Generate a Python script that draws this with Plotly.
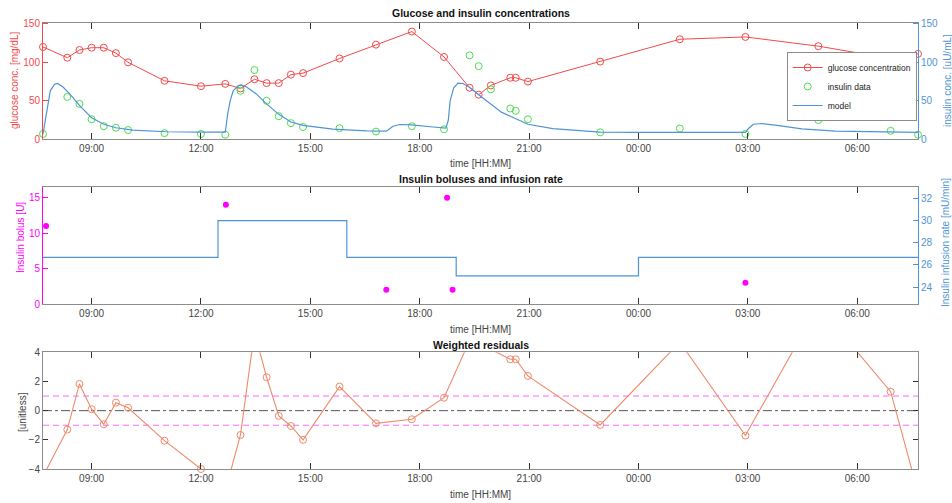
import plotly.graph_objects as go
from datetime import datetime, timedelta

# ---------------- data ----------------
sample_times = ["07:40", "08:20", "08:40", "09:00", "09:20", "09:40", "10:00", "11:00",
                "12:00", "12:40", "13:05", "13:28", "13:48", "14:08", "14:28", "14:48",
                "15:48", "16:48", "17:47", "18:40", "19:22", "19:37", "19:57", "20:29",
                "20:38", "20:58", "22:57", "01:08", "02:56", "04:56", "06:55", "07:40"]
glucose = [120, 106, 116, 119, 119, 112, 100, 76, 69, 72, 66, 78, 73, 73, 84, 86,
           105, 123, 140, 107, 67, 58, 70, 80, 80, 75, 101, 130, 133, 121, 105, 111]
insulin_data = [7, 55, 46, 26, 17, 15, 12, 8, 7, 6, 63, 90, 50, 30, 21, 16,
                14.5, 10, 17, 13, 109, 95, 65, 40, 37, 26, 9, 14, 7, 25, 11, 6]
residuals = [-4.5, -1.3, 1.83, 0.1, -0.93, 0.55, 0.2, -2.06, -4.0, -5.5, -1.67, 5.4,
             2.29, -0.36, -1.05, -2.0, 1.65, -0.87, -0.59, 0.89, 4.8, 5.5, 4.2, 3.52,
             3.52, 2.38, -0.98, 4.7, -1.71, 7.2, 1.3, -5.6]

model_times = ["07:40", "07:43", "07:46", "07:52", "07:59", "08:04", "08:13", "08:24",
               "08:41", "09:00", "09:20", "09:40", "10:08", "11:03", "12:00", "12:40",
               "12:44", "12:48", "12:53", "13:01", "13:06", "13:15", "13:31", "13:48",
               "14:08", "14:28", "14:48", "15:37", "16:32", "17:05", "17:10", "17:16",
               "17:27", "17:47", "18:22", "18:43", "18:47", "18:50", "18:56", "19:03",
               "19:11", "19:22", "19:37", "19:57", "20:15", "20:58", "21:39", "22:57",
               "23:55", "02:56", "03:01", "03:09", "03:23", "03:45", "04:29", "05:24",
               "06:55", "07:40"]
model = [7, 20, 37.5, 63, 71.6, 72.5, 68, 59, 43, 28, 19.6, 15, 12, 9.8, 9.3, 9.2,
         33, 50, 63, 69.5, 70.7, 68, 59, 46, 32.4, 22.5, 18, 13.2, 11, 10.6, 13.5, 17,
         19.2, 18.8, 16, 14.5, 24.7, 50, 67, 73, 72.5, 67.6, 58, 46, 35, 19.6, 14, 9.3,
         8.9, 8.9, 14, 19.6, 20.5, 18.3, 13.6, 10.6, 9.2, 9]

bolus_times = ["07:45", "12:41", "17:05", "18:45", "18:54", "02:56"]
bolus = [11, 14, 2, 15, 2, 3]

infusion_times = ["07:40", "12:28", "16:00", "19:00", "00:00", "07:40"]
infusion = [26.67, 30, 26.67, 25, 26.67, 26.67]

tick_labels = ["09:00", "12:00", "15:00", "18:00", "21:00", "00:00", "03:00", "06:00"]
residual_band = 1
residual_ref = 0


def to_dt(hms):
    base = datetime(2024, 1, 1)
    out, day, prev = [], 0, None
    for s in hms:
        h, m = map(int, s.split(":"))
        v = h * 60 + m
        if prev is not None and v < prev:
            day += 1
        prev = v
        out.append(base + timedelta(days=day, hours=h, minutes=m))
    return out


ts = to_dt(sample_times)
tm = to_dt(model_times)
tb = to_dt(bolus_times)
ti = to_dt(infusion_times)
ticks = to_dt(tick_labels)
x_range = [ts[0], ts[-1]]

RED = "#f24a4a"
GREEN = "#4ddd4d"
BLUE = "#4f94d4"
MAG = "#ff00ff"
RES = "#ee8a6a"
GRAYL = "#8c8c8c"
TICKC = "#444444"
FONT = "Liberation Sans, Arial, sans-serif"

W, H = 952, 503
L, R = 43, 918
panels = [(22.7, 139.3), (187.3, 304.0), (352.3, 469.0)]


def ydom(p):
    t, b = p
    return [1 - b / H, 1 - t / H]


xdom = [L / W, R / W]

fig = go.Figure()

# Panel 1
fig.add_trace(go.Scatter(x=ts, y=glucose, mode="lines+markers", name="glucose concentration",
                         line=dict(color=RED, width=1),
                         marker=dict(symbol="circle-open", size=7, color=RED, line=dict(width=1)),
                         xaxis="x", yaxis="y", cliponaxis=False))
fig.add_trace(go.Scatter(x=ts, y=insulin_data, mode="markers", name="insulin data",
                         marker=dict(symbol="circle-open", size=7, color=GREEN, line=dict(width=1)),
                         xaxis="x", yaxis="y2", cliponaxis=False))
fig.add_trace(go.Scatter(x=tm, y=model, mode="lines", name="model",
                         line=dict(color=BLUE, width=1.2), xaxis="x", yaxis="y2"))

# Panel 2
fig.add_trace(go.Scatter(x=ti, y=infusion, mode="lines", line_shape="hv",
                         line=dict(color=BLUE, width=1.2), xaxis="x2", yaxis="y4",
                         showlegend=False))
fig.add_trace(go.Scatter(x=tb, y=bolus, mode="markers",
                         marker=dict(symbol="circle", size=6, color=MAG),
                         xaxis="x2", yaxis="y3", showlegend=False, cliponaxis=False))

# Panel 3
fig.add_trace(go.Scatter(x=x_range, y=[residual_band] * 2, mode="lines",
                         line=dict(color="#ff66ff", width=1, dash="6px,4px"),
                         xaxis="x3", yaxis="y5", showlegend=False))
fig.add_trace(go.Scatter(x=x_range, y=[-residual_band] * 2, mode="lines",
                         line=dict(color="#ff66ff", width=1, dash="6px,4px"),
                         xaxis="x3", yaxis="y5", showlegend=False))
fig.add_trace(go.Scatter(x=x_range, y=[residual_ref] * 2, mode="lines",
                         line=dict(color="#555555", width=1, dash="dashdot"),
                         xaxis="x3", yaxis="y5", showlegend=False))
fig.add_trace(go.Scatter(x=ts, y=residuals, mode="lines",
                         line=dict(color=RES, width=1.1),
                         xaxis="x3", yaxis="y5", showlegend=False))
in_rng = [(t, r) for t, r in zip(ts, residuals) if -4 <= r <= 4]
fig.add_trace(go.Scatter(x=[a for a, _ in in_rng], y=[b for _, b in in_rng], mode="markers",
                         marker=dict(symbol="circle-open", size=7, color=RES, line=dict(width=1)),
                         xaxis="x3", yaxis="y5", showlegend=False, cliponaxis=False))

xcommon = dict(domain=xdom, range=x_range, tickvals=ticks, tickformat="%H:%M",
               ticks="inside", ticklen=6, tickcolor="#333", showline=True, linecolor=GRAYL,
               linewidth=1, mirror="ticks", showgrid=False, zeroline=False, automargin=False,
               tickfont=dict(size=10, color=TICKC, family=FONT))


def ycommon(color, rng, tv, dom=None, side="left"):
    d = dict(range=rng, tickvals=tv, ticks="inside", ticklen=5, tickcolor=color,
             showline=True, linecolor=color, linewidth=1, showgrid=False, zeroline=False,
             automargin=False, tickfont=dict(size=10, color=color, family=FONT), side=side)
    if dom is not None:
        d["domain"] = dom
    return d


fig.update_layout(
    width=W, height=H, margin=dict(l=0, r=0, t=0, b=0, pad=0, autoexpand=False),
    paper_bgcolor="white", plot_bgcolor="white",
    font=dict(family=FONT, size=10, color="#222"),
    xaxis=dict(anchor="y", **xcommon),
    xaxis2=dict(anchor="y3", **xcommon),
    xaxis3=dict(anchor="y5", **xcommon),
    yaxis=dict(anchor="x", **ycommon(RED, [0, 151.5], [0, 50, 100, 150], ydom(panels[0]))),
    yaxis2=dict(anchor="x", overlaying="y", **ycommon(BLUE, [0, 151.5], [0, 50, 100, 150], side="right")),
    yaxis3=dict(anchor="x2", **ycommon(MAG, [0, 16.47], [0, 5, 10, 15], ydom(panels[1]))),
    yaxis4=dict(anchor="x2", overlaying="y3", **ycommon(BLUE, [22.47, 33], [24, 26, 28, 30, 32], side="right")),
    yaxis5=dict(anchor="x3", mirror="ticks",
                **{**ycommon(TICKC, [-4, 4], [-4, -2, 0, 2, 4], ydom(panels[2])),
                   "linecolor": GRAYL, "tickcolor": "#333"}),
    legend=dict(x=786.7 / W, y=1 - 52 / H, xanchor="left", yanchor="top",
                bgcolor="white", bordercolor="#8c8c8c", borderwidth=1,
                font=dict(size=8.5, color="#222", family=FONT), tracegroupgap=0),
)

ann = []
titles = ["Glucose and insulin concentrations", "Insulin boluses and infusion rate", "Weighted residuals"]
title_y = [13, 179, 345]
xlab_y = [164, 329, 494]
xc = (L + R) / 2 / W
for t, ty, xy in zip(titles, title_y, xlab_y):
    ann.append(dict(text="<b>" + t + "</b>", x=xc, y=1 - ty / H, xref="paper", yref="paper",
                    showarrow=False, xanchor="center", yanchor="middle",
                    font=dict(size=10.5, color="#111", family=FONT)))
    ann.append(dict(text="time [HH:MM]", x=xc, y=1 - xy / H, xref="paper", yref="paper",
                    showarrow=False, xanchor="center", yanchor="middle",
                    font=dict(size=10, color="#444", family=FONT)))

ylabs = [("glucose conc. [mg/dL]", 15, 81, RED), ("Insulin bolus [U]", 20, 238, MAG),
         ("[unitless]", 22, 412, TICKC), ("insulin conc. [uU/mL]", 948, 81, BLUE),
         ("Insulin infusion rate [mU/min]", 945, 243, BLUE)]
for t, x, y, c in ylabs:
    ann.append(dict(text=t, x=x / W, y=1 - y / H, xref="paper", yref="paper", showarrow=False,
                    textangle=-90, xanchor="center", yanchor="middle",
                    font=dict(size=10, color=c, family=FONT)))
fig.update_layout(annotations=ann)

fig.write_html("out.html", config={"displayModeBar": False},
               post_script="document.body.style.margin='0';document.body.style.overflow='hidden';")
